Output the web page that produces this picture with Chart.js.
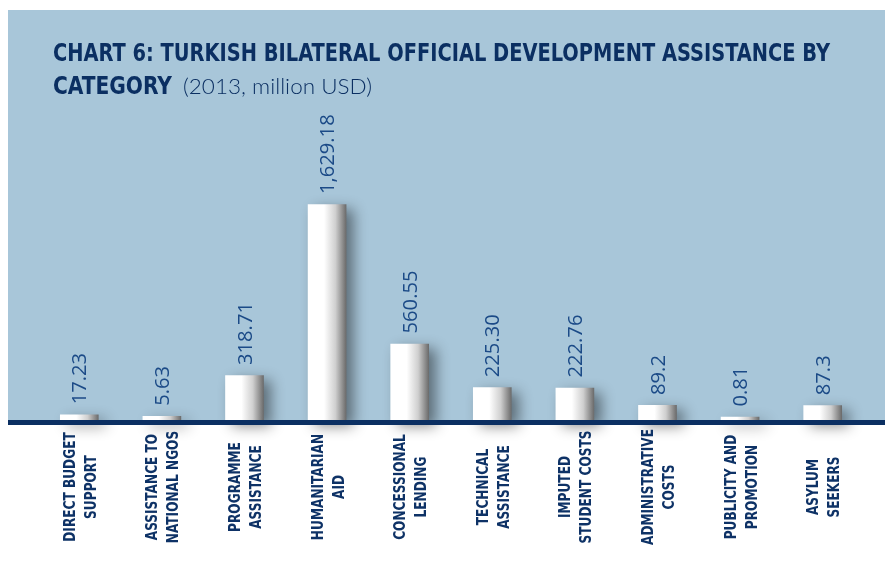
<!DOCTYPE html>
<html>
<head>
<meta charset="utf-8">
<script src="https://cdn.jsdelivr.net/npm/chart.js@4.4.1/dist/chart.umd.min.js"></script>
<style>
  html, body { margin: 0; padding: 0; background: #fff; }
  #wrap { position: relative; width: 885px; height: 578px; overflow: hidden; }
  #panel { position: absolute; left: 8px; top: 10px; width: 877px; height: 411px; background: #a8c6d9; }
  #chart { position: absolute; left: 0; top: 0; }
  .t { position: absolute; color: #0b2f62; white-space: nowrap; transform-origin: 0 0; }
</style>
</head>
<body>
<div id="wrap">
  <div id="panel"></div>
  <canvas id="chart" width="885" height="578"></canvas>
  <div class="t" id="t1">CHART 6: TURKISH BILATERAL OFFICIAL DEVELOPMENT ASSISTANCE BY</div>
  <div class="t" id="t2">CATEGORY</div>
  <div class="t" id="t3">(2013, million USD)</div>
</div>
<script>
// data
const categories = [
    ['DIRECT BUDGET', 'SUPPORT'],
    ['ASSISTANCE TO', 'NATIONAL NGOS'],
    ['PROGRAMME', 'ASSISTANCE'],
    ['HUMANITARIAN', 'AID'],
    ['CONCESSIONAL', 'LENDING'],
    ['TECHNICAL', 'ASSISTANCE'],
    ['IMPUTED', 'STUDENT COSTS'],
    ['ADMINISTRATIVE', 'COSTS'],
    ['PUBLICITY AND', 'PROMOTION'],
    ['ASYLUM', 'SEEKERS']
];
const values = [17.23, 5.63, 318.71, 1629.18, 560.55, 225.30, 222.76, 89.2, 0.81, 87.3];
const decimals = [2, 2, 2, 2, 2, 2, 2, 1, 2, 1];

const NAVY = '#0b2f62';

// font helpers
const probe = document.createElement('canvas').getContext('2d');
function hasFont(name) {
    const s = 'ABCDEFGHIJKLMNOPQRSTUVWXYZ 0123456789';
    return ['monospace', 'serif'].some(base => {
        probe.font = `40px ${base}`;
        const a = probe.measureText(s).width;
        probe.font = `40px "${name}", ${base}`;
        return Math.abs(probe.measureText(s).width - a) > 0.5;
    });
}
function pick(list) {
    const f = list.find(hasFont) || list[list.length - 1];
    return `"${f}"`;
}
const condFam = pick(['Liberation Sans Narrow', 'DejaVu Sans Condensed', 'Roboto Condensed', 'Liberation Sans']);
const lightFam = pick(['Lato', 'Open Sans', 'Roboto']);
const numFam = pick(['Open Sans', 'Noto Sans', 'Roboto']);

function metrics(font, txt) {
    probe.font = font;
    return probe.measureText(txt);
}
function sizeForCap(weight, fam, cap, ch) {
    const m = metrics(`${weight} 100px ${fam}`, ch || 'H');
    return cap * 100 / m.actualBoundingBoxAscent;
}

// title placed as html text
function placeTitle(id, weight, fam, cap, left, baseline, width) {
    const el = document.getElementById(id);
    const size = sizeForCap(weight, fam, cap);
    el.style.font = `${weight} ${size}px ${fam}`;
    el.style.lineHeight = size + 'px';
    const m = metrics(`${weight} ${size}px ${fam}`, el.textContent);
    const fa = m.fontBoundingBoxAscent, fd = m.fontBoundingBoxDescent;
    const off = (size - (fa + fd)) / 2 + fa;
    el.style.left = left + 'px';
    el.style.top = (baseline - off) + 'px';
    const w = el.getBoundingClientRect().width;
    el.style.transform = `scaleX(${width / w})`;
}
placeTitle('t1', 700, condFam, 17.5, 53, 62, 777);
placeTitle('t2', 700, condFam, 17.5, 53, 95, 119);
placeTitle('t3', 300, lightFam, 16, 183, 95, 189);

// label fonts
const catSize = sizeForCap(700, condFam, 11.5);
const catFont = `700 ${catSize}px ${condFam}`;
const catCap = metrics(catFont, 'H').actualBoundingBoxAscent;
const catSqueeze = 116 / metrics(catFont, 'ADMINISTRATIVE').width;

const numSize = 20 * 63 / metrics(`400 20px ${numFam}`, '560.55').width;
const numFont = `400 ${numSize}px ${numFam}`;
const numCap = metrics(numFont, '0').actualBoundingBoxAscent;

const fmt = (v, d) => v.toLocaleString('en-US', { minimumFractionDigits: d, maximumFractionDigits: d });

const decor = {
    id: 'decor',
    beforeDatasetsDraw(chart) {
        const c = chart.ctx;
        c.save();
        c.shadowColor = 'rgba(0,0,0,0.45)';
        c.shadowBlur = 14;
        c.shadowOffsetX = 7;
        c.shadowOffsetY = 5;
    },
    afterDatasetsDraw(chart) {
        const c = chart.ctx;
        c.restore();

        // axis line
        c.fillStyle = NAVY;
        c.fillRect(8, 420, 877, 5);

        const meta = chart.getDatasetMeta(0);

        // values above bars
        c.save();
        c.font = numFont;
        c.fillStyle = '#1b4a87';
        c.textAlign = 'left';
        c.textBaseline = 'alphabetic';
        meta.data.forEach((bar, i) => {
            c.save();
            c.translate(bar.x, bar.y - 10.5);
            c.rotate(-Math.PI / 2);
            c.fillText(fmt(values[i], decimals[i]), 0, numCap / 2);
            c.restore();
        });
        c.restore();

        // category names under the axis
        c.save();
        c.font = catFont;
        c.fillStyle = '#0e3266';
        c.textAlign = 'center';
        c.textBaseline = 'alphabetic';
        const xs = chart.scales.x;
        categories.forEach((lines, i) => {
            const cx = xs.getPixelForValue(i);
            lines.forEach((ln, j) => {
                const dx = (j - (lines.length - 1) / 2) * 21;
                c.save();
                c.translate(cx + dx, 487);
                c.rotate(-Math.PI / 2);
                c.scale(catSqueeze, 1);
                c.fillText(ln, 0, catCap / 2);
                c.restore();
            });
        });
        c.restore();
    }
};

function barFill(ctx) {
    const chart = ctx.chart;
    const xs = chart.scales.x;
    if (!xs || ctx.dataIndex === undefined) return '#fff';
    const cx = xs.getPixelForValue(ctx.dataIndex);
    if (!Number.isFinite(cx)) return '#fff';
    const g = chart.ctx.createLinearGradient(cx - 19, 0, cx + 19, 0);
    g.addColorStop(0, '#ffffff');
    g.addColorStop(0.42, '#ffffff');
    g.addColorStop(0.72, '#cfcfcf');
    g.addColorStop(1, '#6c6c6c');
    return g;
}

const chart = new Chart(document.getElementById('chart'), {
    type: 'bar',
    data: {
        labels: categories,
        datasets: [{
            data: values,
            base: -30,
            backgroundColor: barFill,
            borderWidth: 0,
            barThickness: 38,
            clip: false
        }]
    },
    options: {
        responsive: false,
        animation: false,
        devicePixelRatio: 1,
        layout: { padding: { left: 38, right: 21, top: 104, bottom: 157 } },
        plugins: {
            legend: { display: false },
            tooltip: { enabled: false }
        },
        scales: {
            x: { display: false, offset: true },
            y: { display: false, min: -30, max: 2400 }
        }
    },
    plugins: [decor]
});
chart.update();
</script>
</body>
</html>
